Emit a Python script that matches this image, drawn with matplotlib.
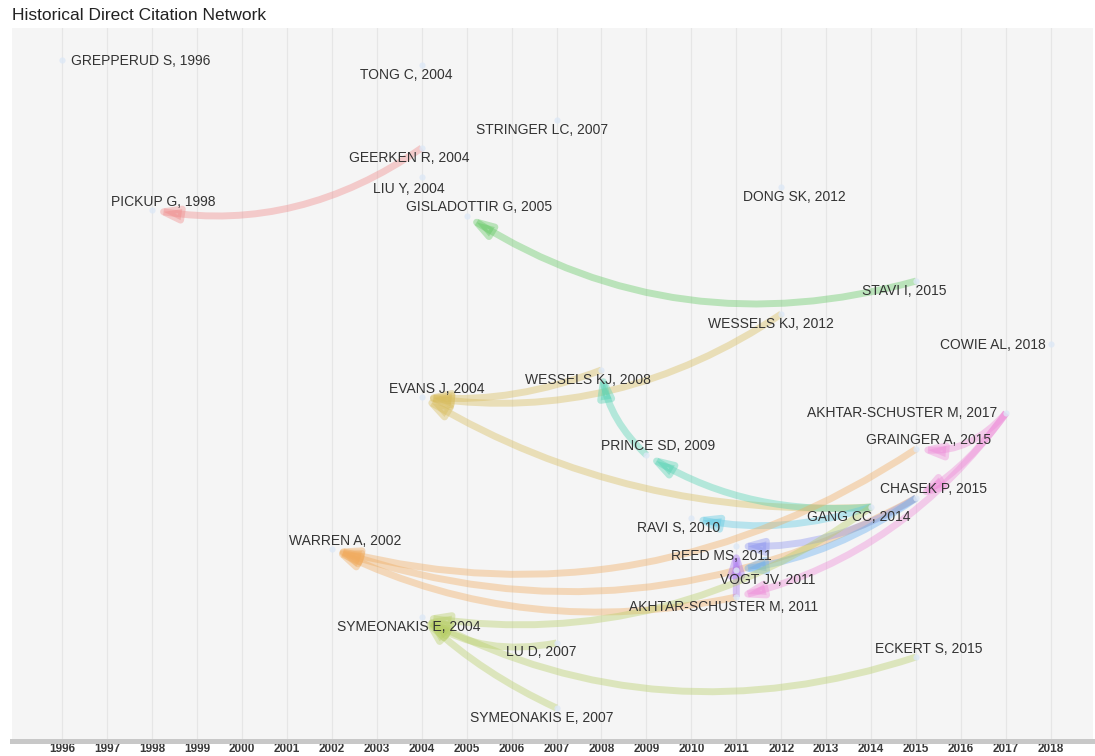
import matplotlib.pyplot as plt
from matplotlib.patches import FancyArrowPatch
import numpy as np

plt.rcParams['font.family'] = ['Liberation Sans', 'DejaVu Sans']

# ---- nodes: label, publication year, vertical layout position (top = small)
labels = ['GREPPERUD S, 1996', 'TONG C, 2004', 'STRINGER LC, 2007', 'GEERKEN R, 2004',
          'LIU Y, 2004', 'PICKUP G, 1998', 'GISLADOTTIR G, 2005', 'DONG SK, 2012',
          'STAVI I, 2015', 'WESSELS KJ, 2012', 'COWIE AL, 2018', 'EVANS J, 2004',
          'WESSELS KJ, 2008', 'AKHTAR-SCHUSTER M, 2017', 'PRINCE SD, 2009', 'GRAINGER A, 2015',
          'CHASEK P, 2015', 'GANG CC, 2014', 'RAVI S, 2010', 'WARREN A, 2002',
          'REED MS, 2011', 'VOGT JV, 2011', 'AKHTAR-SCHUSTER M, 2011', 'SYMEONAKIS E, 2004',
          'LU D, 2007', 'ECKERT S, 2015', 'SYMEONAKIS E, 2007']
years = [1996, 2004, 2007, 2004, 2004, 1998, 2005, 2012, 2015, 2012, 2018, 2004, 2008, 2017,
         2009, 2015, 2015, 2014, 2010, 2002, 2011, 2011, 2011, 2004, 2007, 2015, 2007]
ypos = [60, 65, 120, 148, 177, 210, 216, 187, 281, 314, 344, 397, 370, 413,
        455, 449, 498, 507, 518, 549, 546, 570, 597, 617, 643, 657, 708]

# ---- citations: citing -> cited
citing = ['GEERKEN R, 2004', 'STAVI I, 2015', 'WESSELS KJ, 2012', 'WESSELS KJ, 2008',
          'GANG CC, 2014', 'PRINCE SD, 2009', 'GANG CC, 2014', 'GANG CC, 2014',
          'GRAINGER A, 2015', 'CHASEK P, 2015', 'AKHTAR-SCHUSTER M, 2011',
          'AKHTAR-SCHUSTER M, 2017', 'AKHTAR-SCHUSTER M, 2017', 'AKHTAR-SCHUSTER M, 2017',
          'CHASEK P, 2015', 'CHASEK P, 2015', 'AKHTAR-SCHUSTER M, 2011',
          'GANG CC, 2014', 'LU D, 2007', 'ECKERT S, 2015', 'SYMEONAKIS E, 2007']
cited = ['PICKUP G, 1998', 'GISLADOTTIR G, 2005', 'EVANS J, 2004', 'EVANS J, 2004',
         'EVANS J, 2004', 'WESSELS KJ, 2008', 'PRINCE SD, 2009', 'RAVI S, 2010',
         'WARREN A, 2002', 'WARREN A, 2002', 'WARREN A, 2002',
         'GRAINGER A, 2015', 'CHASEK P, 2015', 'AKHTAR-SCHUSTER M, 2011',
         'REED MS, 2011', 'VOGT JV, 2011', 'REED MS, 2011',
         'SYMEONAKIS E, 2004', 'SYMEONAKIS E, 2004', 'SYMEONAKIS E, 2004', 'SYMEONAKIS E, 2004']

# ---- styling / layout
label_off = [(79, 1), (-15, 10), (-14, 10), (-12, 10), (-13, 12), (11, -8), (12, -9), (13, 10),
             (-12, 10), (-10, 10), (-58, 1), (15, -8), (-14, 10), (-104, 0), (12, -9), (12, -9),
             (17, -9), (-12, 10), (-13, 10), (13, -8), (-15, 10), (31, 10), (-13, 10), (-13, 10),
             (-15, 9), (13, -8), (-15, 10)]
edge_col = ['#f08a8a', '#62c862', '#d8bc5c', '#d8bc5c', '#d8bc5c', '#52d2b2', '#52d2b2', '#5cc8e2',
            '#f0ac60', '#f0ac60', '#f0ac60', '#ee8ad8', '#ee8ad8', '#ee8ad8',
            '#8c94f0', '#66aef0', '#a874f2', '#b8cf68', '#b8cf68', '#b8cf68', '#b8cf68']
edge_rad = [-0.2, -0.22, -0.19, -0.11, -0.15, -0.17, -0.16, -0.13,
            -0.22, -0.22, -0.17, -0.25, -0.1, -0.18,
            -0.15, -0.12, 0.0, -0.2, -0.2, -0.21, -0.08]

W, H = 1095, 756
fig = plt.figure(figsize=(W / 100, H / 100), dpi=100)
ax = fig.add_axes([12 / W, (H - 740.5) / H, (1093 - 12) / W, (740.5 - 28) / H])
ax.set_facecolor('#f5f5f5')

px_per_year = 44.95
ax.set_xlim(1996 - 50 / px_per_year, 2018 + 42 / px_per_year)
ax.set_ylim(740.5, 28)

yr = np.arange(1996, 2019)
ax.set_xticks(yr)
ax.set_xticklabels([str(y) for y in yr], fontsize=8.5, fontweight='bold', color='#3a3a3a')
ax.tick_params(axis='x', length=0, pad=1.5)
ax.set_yticks([])
ax.grid(axis='x', color='#e6e6e6', lw=0.9)
ax.set_axisbelow(True)
for s in ['top', 'left', 'right']:
    ax.spines[s].set_visible(False)
ax.spines['bottom'].set_color('#c8c8c8')
ax.spines['bottom'].set_linewidth(3.6)

idx = {lab: i for i, lab in enumerate(labels)}

for s, t, c, r in zip(citing, cited, edge_col, edge_rad):
    i, j = idx[s], idx[t]
    arr = FancyArrowPatch((years[i], ypos[i]), (years[j], ypos[j]),
                          connectionstyle='arc3,rad=%s' % r,
                          arrowstyle='-|>,head_length=1.3,head_width=0.4',
                          mutation_scale=10, lw=5, color=c, alpha=0.4,
                          shrinkA=0, shrinkB=0, joinstyle='round', capstyle='butt', zorder=2)
    ax.add_patch(arr)

ax.scatter(years, ypos, s=20, color='#dde8f6', alpha=0.8, zorder=3, linewidths=0)

for lab, x, y, (dx, dy) in zip(labels, years, ypos, label_off):
    ax.annotate(lab, (x, y), xytext=(dx, -dy), textcoords='offset pixels',
                ha='center', va='center', fontsize=10, color='#333333', zorder=4)

fig.text(12 / W, 1 - 16 / H, 'Historical Direct Citation Network', fontsize=12.5,
         color='#222222', ha='left', va='center')

fig.savefig('out.png', dpi=100)
